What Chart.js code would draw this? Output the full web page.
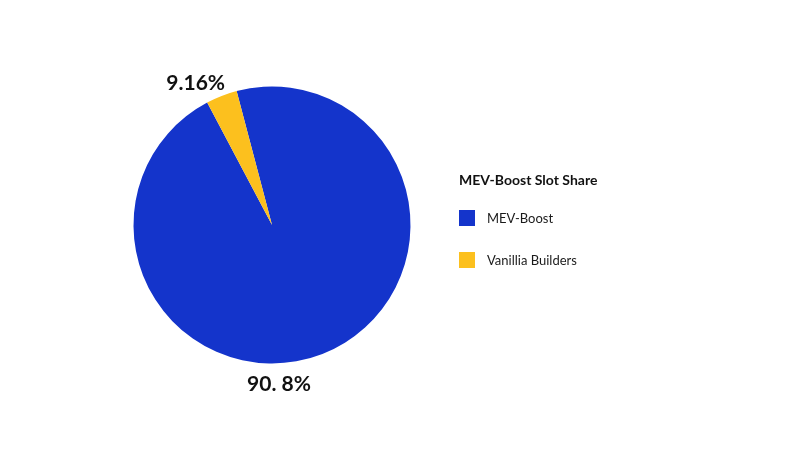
<!DOCTYPE html>
<html>
<head>
<meta charset="utf-8">
<script src="https://cdn.jsdelivr.net/npm/chart.js@4.4.0/dist/chart.umd.min.js"></script>
<style>
  html, body { margin: 0; padding: 0; background: #fff; }
  #wrap { width: 800px; height: 450px; position: relative; }
</style>
</head>
<body>
<div id="wrap"><canvas id="myChart" width="800" height="450"></canvas></div>
<script>
const labels = ["MEV-Boost", "Vanillia Builders"];
const shares = [96.36, 3.64];
const shareLabels = ["90. 8%", "9.16%"];
const colors = ["#1434CB", "#FCC01E"];
const legendTitle = "MEV-Boost Slot Share";

const ctx = document.getElementById("myChart");
const FONT = "Lato, 'Open Sans', sans-serif";

// where each slice label sits: angle from top (clockwise, deg) and distance from centre
const labelSpots = [
  { angle: 177.5, dist: 159.5 },
  { angle: -28.3, dist: 161 }
];

const extras = {
  id: "extras",
  afterDraw(chart) {
    const c = chart.ctx;
    const arc = chart.getDatasetMeta(0).data[0];
    const cx = arc.x, cy = arc.y;

    c.save();
    c.fillStyle = "#111";
    c.textAlign = "center";
    c.textBaseline = "middle";
    c.font = "bold 21px " + FONT;
    shareLabels.forEach((txt, i) => {
      const a = labelSpots[i].angle * Math.PI / 180;
      const d = labelSpots[i].dist;
      c.fillText(txt, cx + d * Math.sin(a), cy - d * Math.cos(a));
    });

    // legend
    c.textAlign = "left";
    c.font = "bold 14px " + FONT;
    c.fillStyle = "#111";
    c.fillText(legendTitle, 459, 180);
    c.font = "13px " + FONT;
    labels.forEach((lab, i) => {
      const y = 218 + i * 42;
      c.fillStyle = colors[i];
      c.fillRect(459, y - 8, 16, 16);
      c.fillStyle = "#1a1a1a";
      c.fillText(lab, 487, y + 1);
    });
    c.restore();
  }
};

new Chart(ctx, {
  type: "pie",
  data: {
    labels: labels,
    datasets: [{
      data: shares,
      backgroundColor: colors,
      borderWidth: 0,
      hoverOffset: 0
    }]
  },
  options: {
    responsive: false,
    animation: false,
    rotation: -14.8,
    layout: {
      padding: { top: 86.5, bottom: 86.5, left: 133.5, right: 389.5 }
    },
    plugins: {
      legend: { display: false },
      tooltip: { enabled: false }
    }
  },
  plugins: [extras]
});
</script>
</body>
</html>
